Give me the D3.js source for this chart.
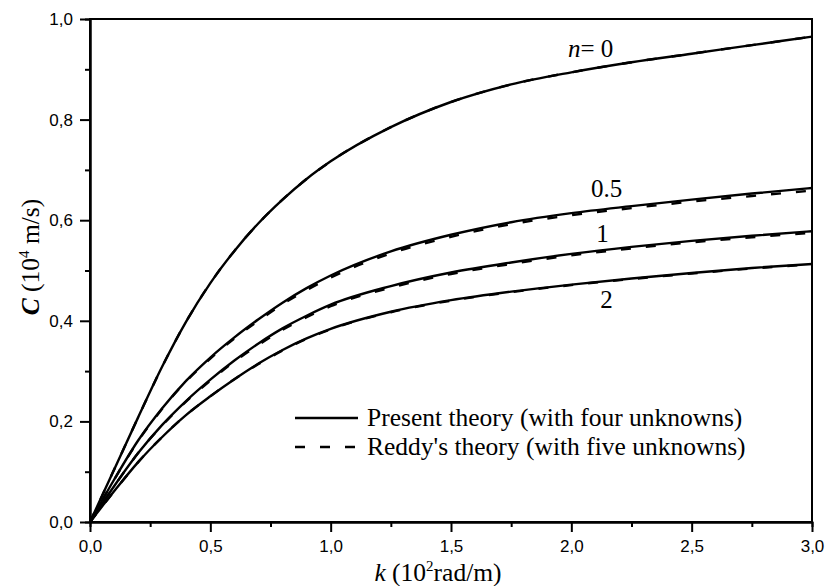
<!DOCTYPE html>
<html>
<head>
<meta charset="utf-8">
<script src="https://cdn.jsdelivr.net/npm/d3@7"></script>
<style>
  html, body { margin: 0; padding: 0; background: #fff; }
  svg { display: block; }
</style>
</head>
<body>
<svg id="chart" width="829" height="586"></svg>
<script>
// Wave number k (10^2 rad/m)
const kValues = [0, 0.1, 0.2, 0.3, 0.4, 0.5, 0.6, 0.7, 0.8, 0.9, 1.0, 1.25, 1.5, 1.75, 2.0, 2.25, 2.5, 2.75, 3.0];

// Phase velocity C (10^4 m/s), present theory (four unknowns)
const presentN0  = [0, 0.104, 0.208, 0.309, 0.399, 0.475, 0.539, 0.594, 0.641, 0.682, 0.717, 0.785, 0.835, 0.870, 0.894, 0.914, 0.931, 0.948, 0.965];
const presentN05 = [0, 0.084, 0.162, 0.226, 0.281, 0.327, 0.367, 0.403, 0.436, 0.465, 0.490, 0.538, 0.571, 0.596, 0.614, 0.628, 0.641, 0.653, 0.664];
const presentN1  = [0, 0.071, 0.137, 0.193, 0.241, 0.283, 0.321, 0.355, 0.385, 0.410, 0.432, 0.469, 0.496, 0.516, 0.533, 0.547, 0.559, 0.569, 0.578];
const presentN2  = [0, 0.061, 0.119, 0.169, 0.213, 0.250, 0.284, 0.315, 0.342, 0.365, 0.384, 0.418, 0.441, 0.458, 0.472, 0.484, 0.495, 0.505, 0.513];

// Phase velocity C (10^4 m/s), Reddy's theory (five unknowns)
const reddyN0  = [0, 0.104, 0.208, 0.309, 0.399, 0.475, 0.539, 0.594, 0.641, 0.682, 0.717, 0.785, 0.835, 0.870, 0.894, 0.914, 0.931, 0.948, 0.965];
const reddyN05 = [0, 0.084, 0.161, 0.225, 0.280, 0.325, 0.365, 0.400, 0.433, 0.461, 0.486, 0.534, 0.567, 0.592, 0.610, 0.624, 0.637, 0.648, 0.659];
const reddyN1  = [0, 0.071, 0.137, 0.192, 0.240, 0.281, 0.319, 0.352, 0.382, 0.407, 0.429, 0.466, 0.493, 0.513, 0.530, 0.544, 0.556, 0.566, 0.575];
const reddyN2  = [0, 0.061, 0.119, 0.169, 0.213, 0.250, 0.284, 0.314, 0.341, 0.364, 0.383, 0.417, 0.440, 0.457, 0.471, 0.483, 0.494, 0.504, 0.512];

// Power-law index of each pair of curves
const curveLabels = ["0", "0.5", "1", "2"];

const xMajorTicks = [0, 0.5, 1.0, 1.5, 2.0, 2.5, 3.0];
const xMinorTicks = [0.25, 0.75, 1.25, 1.75, 2.25, 2.75];
const yMajorTicks = [0, 0.2, 0.4, 0.6, 0.8, 1.0];
const yMinorTicks = [0.1, 0.3, 0.5, 0.7, 0.9];

const legendLabels = ["Present theory (with four unknowns)", "Reddy's theory (with five unknowns)"];

const svg = d3.select("#chart");
const margin = { left: 90, right: 17, top: 19, bottom: 64 };
const W = 829, H = 586;
const x = d3.scaleLinear().domain([0, 3]).range([margin.left, W - margin.right]);
const y = d3.scaleLinear().domain([0, 1]).range([H - margin.bottom, margin.top]);

const serif = "'Liberation Serif', 'Times New Roman', serif";
const sans = "'Liberation Sans', Arial, sans-serif";
const comma = v => d3.format(".1f")(v).replace(".", ",");

// Plot frame
svg.append("rect")
  .attr("x", x(0)).attr("y", y(1))
  .attr("width", x(3) - x(0)).attr("height", y(0) - y(1))
  .attr("fill", "none").attr("stroke", "#000").attr("stroke-width", 2);

function styleAxis(g) {
  g.select(".domain").attr("stroke", "#000").attr("stroke-width", 2);
  g.selectAll(".tick line").attr("stroke", "#000").attr("stroke-width", 2);
  g.selectAll(".tick text").attr("fill", "#000")
    .style("font-family", sans).style("font-size", "17px");
}

// Bottom axis
svg.append("g").attr("transform", `translate(0,${y(0)})`)
  .call(d3.axisBottom(x).tickValues(xMinorTicks).tickSize(5).tickFormat(""))
  .call(styleAxis);
svg.append("g").attr("transform", `translate(0,${y(0)})`)
  .call(d3.axisBottom(x).tickValues(xMajorTicks).tickSize(10).tickSizeOuter(0).tickPadding(8).tickFormat(comma))
  .call(styleAxis);

// Left axis
svg.append("g").attr("transform", `translate(${x(0)},0)`)
  .call(d3.axisLeft(y).tickValues(yMinorTicks).tickSize(5).tickFormat(""))
  .call(styleAxis);
svg.append("g").attr("transform", `translate(${x(0)},0)`)
  .call(d3.axisLeft(y).tickValues(yMajorTicks).tickSize(10).tickSizeOuter(0).tickPadding(7).tickFormat(comma))
  .call(styleAxis);

// Curves
const line = d3.line()
  .x((d, i) => x(kValues[i]))
  .y(d => y(d))
  .curve(d3.curveMonotoneX);

const present = [presentN0, presentN05, presentN1, presentN2];
const reddy = [reddyN0, reddyN05, reddyN1, reddyN2];

const plot = svg.append("g");
present.forEach(s => {
  plot.append("path").attr("d", line(s))
    .attr("fill", "none").attr("stroke", "#000").attr("stroke-width", 2.4);
});
reddy.forEach(s => {
  plot.append("path").attr("d", line(s))
    .attr("fill", "none").attr("stroke", "#000").attr("stroke-width", 2.4)
    .attr("stroke-dasharray", "10,15");
});

// Curve labels
const labelFont = 25;
const nLabel = svg.append("text")
  .attr("x", 568).attr("y", 57)
  .style("font-family", serif).style("font-size", labelFont + "px");
nLabel.append("tspan").attr("font-style", "italic").text("n");
nLabel.append("tspan").text("= " + curveLabels[0]);

const labelPos = [null, [606.5, 197], [602.5, 242], [606.5, 308]];
for (let i = 1; i < curveLabels.length; i++) {
  svg.append("text")
    .attr("x", labelPos[i][0]).attr("y", labelPos[i][1])
    .attr("text-anchor", "middle")
    .style("font-family", serif).style("font-size", labelFont + "px")
    .text(curveLabels[i]);
}

// Legend
const legend = svg.append("g");
[[418, null], [447, "10,15"]].forEach(([ly, dash], i) => {
  legend.append("line")
    .attr("x1", 295).attr("x2", 358).attr("y1", ly).attr("y2", ly)
    .attr("stroke", "#000").attr("stroke-width", 2.4)
    .attr("stroke-dasharray", dash);
  legend.append("text")
    .attr("x", 367).attr("y", ly + 8)
    .style("font-family", serif).style("font-size", "25.5px")
    .text(legendLabels[i]);
});

// Axis titles
const xt = svg.append("text")
  .attr("x", 438).attr("y", 581).attr("text-anchor", "middle")
  .style("font-family", serif).style("font-size", "25.5px");
xt.append("tspan").attr("font-style", "italic").text("k");
xt.append("tspan").text(" (10");
xt.append("tspan").attr("dy", -10).style("font-size", "15px").text("2");
xt.append("tspan").attr("dy", 10).text("rad/m)");

const yt = svg.append("text")
  .attr("transform", "translate(39,257) rotate(-90)")
  .attr("text-anchor", "middle")
  .style("font-family", serif).style("font-size", "25.5px");
yt.append("tspan").attr("font-style", "italic").attr("font-weight", "bold").text("C");
yt.append("tspan").text(" (10");
yt.append("tspan").attr("dy", -10).style("font-size", "15px").text("4");
yt.append("tspan").attr("dy", 10).text(" m/s)");
</script>
</body>
</html>
